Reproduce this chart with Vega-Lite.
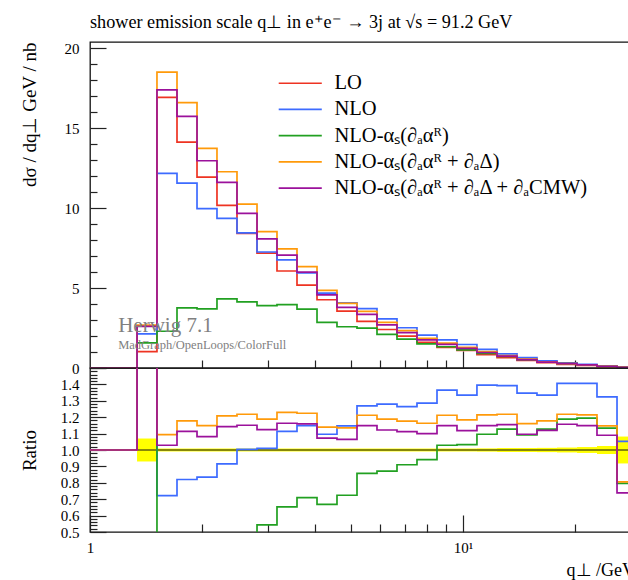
{
  "$schema": "https://vega.github.io/schema/vega-lite/v6.json",
  "padding": {"left": 19, "top": 12, "right": 0, "bottom": 0},
  "config": {
    "view": {"stroke": "#111111", "strokeWidth": 1.3},
    "font": "Liberation Serif",
    "axis": {
      "domain": false, "grid": false, "tickColor": "#222222", "tickWidth": 1.2,
      "labelFont": "Liberation Serif", "labelFontSize": 15, "labelColor": "black",
      "titleFont": "Liberation Serif", "titleFontSize": 19, "titleFontWeight": "normal", "titleColor": "black",
      "labelOverlap": false, "labelBound": false, "labelFlush": false
    }
  },
  "datasets": {
    "hist": [
      {"q": 1.0, "LO": 0, "NLO": 0, "AR": 0, "ARD": 0, "ARDC": 0},
      {"q": 1.337, "LO": 1.03, "NLO": 2.14, "AR": 1.57, "ARD": 2.68, "ARDC": 2.61},
      {"q": 1.512, "LO": 16.93, "NLO": 12.18, "AR": 2.30, "ARD": 18.51, "ARDC": 17.41},
      {"q": 1.711, "LO": 14.14, "NLO": 11.57, "AR": 3.76, "ARD": 16.61, "ARDC": 15.74},
      {"q": 1.936, "LO": 11.95, "NLO": 9.97, "AR": 3.70, "ARD": 13.74, "ARDC": 12.97},
      {"q": 2.190, "LO": 10.18, "NLO": 9.36, "AR": 4.32, "ARD": 12.28, "ARDC": 11.61},
      {"q": 2.478, "LO": 8.42, "NLO": 8.45, "AR": 4.14, "ARD": 10.26, "ARDC": 9.68},
      {"q": 2.804, "LO": 7.19, "NLO": 7.26, "AR": 3.90, "ARD": 8.54, "ARDC": 8.08},
      {"q": 3.172, "LO": 6.07, "NLO": 6.76, "AR": 3.97, "ARD": 7.46, "ARDC": 7.06},
      {"q": 3.589, "LO": 5.18, "NLO": 5.95, "AR": 3.68, "ARD": 6.34, "ARDC": 6.00},
      {"q": 4.061, "LO": 4.27, "NLO": 4.68, "AR": 2.86, "ARD": 4.86, "ARDC": 4.58},
      {"q": 4.594, "LO": 3.56, "NLO": 4.08, "AR": 2.58, "ARD": 4.04, "ARDC": 3.79},
      {"q": 5.198, "LO": 2.92, "NLO": 3.71, "AR": 2.50, "ARD": 3.54, "ARDC": 3.36},
      {"q": 5.881, "LO": 2.41, "NLO": 3.08, "AR": 2.10, "ARD": 2.86, "ARDC": 2.70},
      {"q": 6.654, "LO": 1.99, "NLO": 2.52, "AR": 1.81, "ARD": 2.34, "ARDC": 2.21},
      {"q": 7.528, "LO": 1.60, "NLO": 2.06, "AR": 1.51, "ARD": 1.86, "ARDC": 1.76},
      {"q": 8.518, "LO": 1.29, "NLO": 1.76, "AR": 1.33, "ARD": 1.56, "ARDC": 1.48},
      {"q": 9.636, "LO": 1.10, "NLO": 1.47, "AR": 1.14, "ARD": 1.30, "ARDC": 1.23},
      {"q": 10.90, "LO": 0.84, "NLO": 1.17, "AR": 0.92, "ARD": 1.02, "ARDC": 0.97},
      {"q": 12.34, "LO": 0.64, "NLO": 0.89, "AR": 0.72, "ARD": 0.78, "ARDC": 0.74},
      {"q": 13.96, "LO": 0.48, "NLO": 0.65, "AR": 0.52, "ARD": 0.56, "ARDC": 0.53},
      {"q": 15.79, "LO": 0.33, "NLO": 0.44, "AR": 0.37, "ARD": 0.39, "ARDC": 0.37},
      {"q": 17.87, "LO": 0.23, "NLO": 0.32, "AR": 0.27, "ARD": 0.28, "ARDC": 0.27},
      {"q": 20.22, "LO": 0.165, "NLO": 0.232, "AR": 0.197, "ARD": 0.200, "ARDC": 0.190},
      {"q": 22.87, "LO": 0.09, "NLO": 0.119, "AR": 0.102, "ARD": 0.103, "ARDC": 0.098},
      {"q": 25.88, "LO": 0.045, "NLO": 0.047, "AR": 0.036, "ARD": 0.036, "ARDC": 0.033},
      {"q": 29.28, "LO": 0.045, "NLO": 0.047, "AR": 0.036, "ARD": 0.036, "ARDC": 0.033}
    ],
    "ratio": [
      {"q": 1.0, "NLO": 1, "AR": 1, "ARD": 1, "ARDC": 1},
      {"q": 1.337, "NLO": 2.08, "AR": 1.52, "ARD": 2.60, "ARDC": 2.53},
      {"q": 1.512, "NLO": 0.722, "AR": 0.136, "ARD": 1.094, "ARDC": 1.029},
      {"q": 1.711, "NLO": 0.820, "AR": 0.266, "ARD": 1.178, "ARDC": 1.114},
      {"q": 1.936, "NLO": 0.835, "AR": 0.310, "ARD": 1.149, "ARDC": 1.082},
      {"q": 2.190, "NLO": 0.916, "AR": 0.424, "ARD": 1.208, "ARDC": 1.143},
      {"q": 2.478, "NLO": 1.004, "AR": 0.49, "ARD": 1.218, "ARDC": 1.151},
      {"q": 2.804, "NLO": 1.010, "AR": 0.543, "ARD": 1.188, "ARDC": 1.124},
      {"q": 3.172, "NLO": 1.114, "AR": 0.653, "ARD": 1.229, "ARDC": 1.163},
      {"q": 3.589, "NLO": 1.149, "AR": 0.710, "ARD": 1.224, "ARDC": 1.159},
      {"q": 4.061, "NLO": 1.096, "AR": 0.669, "ARD": 1.139, "ARDC": 1.073},
      {"q": 4.594, "NLO": 1.147, "AR": 0.724, "ARD": 1.135, "ARDC": 1.065},
      {"q": 5.198, "NLO": 1.269, "AR": 0.857, "ARD": 1.212, "ARDC": 1.149},
      {"q": 5.881, "NLO": 1.280, "AR": 0.871, "ARD": 1.188, "ARDC": 1.122},
      {"q": 6.654, "NLO": 1.265, "AR": 0.910, "ARD": 1.176, "ARDC": 1.112},
      {"q": 7.528, "NLO": 1.286, "AR": 0.941, "ARD": 1.163, "ARDC": 1.100},
      {"q": 8.518, "NLO": 1.365, "AR": 1.029, "ARD": 1.212, "ARDC": 1.149},
      {"q": 9.636, "NLO": 1.335, "AR": 1.033, "ARD": 1.184, "ARDC": 1.118},
      {"q": 10.90, "NLO": 1.396, "AR": 1.096, "ARD": 1.214, "ARDC": 1.149},
      {"q": 12.34, "NLO": 1.392, "AR": 1.127, "ARD": 1.218, "ARDC": 1.155},
      {"q": 13.96, "NLO": 1.347, "AR": 1.092, "ARD": 1.161, "ARDC": 1.096},
      {"q": 15.79, "NLO": 1.335, "AR": 1.127, "ARD": 1.178, "ARDC": 1.120},
      {"q": 17.87, "NLO": 1.406, "AR": 1.188, "ARD": 1.218, "ARDC": 1.157},
      {"q": 20.22, "NLO": 1.406, "AR": 1.194, "ARD": 1.214, "ARDC": 1.149},
      {"q": 22.87, "NLO": 1.324, "AR": 1.133, "ARD": 1.147, "ARDC": 1.090},
      {"q": 25.88, "NLO": 1.053, "AR": 0.796, "ARD": 0.806, "ARDC": 0.739},
      {"q": 29.28, "NLO": 1.053, "AR": 0.796, "ARD": 0.806, "ARDC": 0.739}
    ],
    "band": [
      {"lo": 1.337, "hi": 1.512, "down": 0.93, "up": 1.07},
      {"lo": 1.512, "hi": 1.711, "down": 0.991, "up": 1.009},
      {"lo": 1.711, "hi": 1.936, "down": 0.991, "up": 1.009},
      {"lo": 1.936, "hi": 2.190, "down": 0.991, "up": 1.009},
      {"lo": 2.190, "hi": 2.478, "down": 0.991, "up": 1.009},
      {"lo": 2.478, "hi": 2.804, "down": 0.991, "up": 1.009},
      {"lo": 2.804, "hi": 3.172, "down": 0.991, "up": 1.009},
      {"lo": 3.172, "hi": 3.589, "down": 0.991, "up": 1.009},
      {"lo": 3.589, "hi": 4.061, "down": 0.991, "up": 1.009},
      {"lo": 4.061, "hi": 4.594, "down": 0.991, "up": 1.009},
      {"lo": 4.594, "hi": 5.198, "down": 0.991, "up": 1.009},
      {"lo": 5.198, "hi": 5.881, "down": 0.991, "up": 1.009},
      {"lo": 5.881, "hi": 6.654, "down": 0.991, "up": 1.009},
      {"lo": 6.654, "hi": 7.528, "down": 0.991, "up": 1.009},
      {"lo": 7.528, "hi": 8.518, "down": 0.991, "up": 1.009},
      {"lo": 8.518, "hi": 9.636, "down": 0.991, "up": 1.009},
      {"lo": 9.636, "hi": 10.90, "down": 0.991, "up": 1.009},
      {"lo": 10.90, "hi": 12.34, "down": 0.99, "up": 1.01},
      {"lo": 12.34, "hi": 13.96, "down": 0.988, "up": 1.012},
      {"lo": 13.96, "hi": 15.79, "down": 0.988, "up": 1.012},
      {"lo": 15.79, "hi": 17.87, "down": 0.987, "up": 1.013},
      {"lo": 17.87, "hi": 20.22, "down": 0.985, "up": 1.015},
      {"lo": 20.22, "hi": 22.87, "down": 0.982, "up": 1.018},
      {"lo": 22.87, "hi": 25.88, "down": 0.975, "up": 1.025},
      {"lo": 25.88, "hi": 29.28, "down": 0.918, "up": 1.082}
    ]
  },
  "spacing": 0,
  "bounds": "flush",
  "resolve": {"scale": {"color": "independent"}, "legend": {"color": "independent"}},
  "vconcat": [
    {
      "width": 540,
      "height": 326,
      "title": {
        "text": "shower emission scale q⊥ in e⁺e⁻ → 3j at √s = 91.2 GeV",
        "anchor": "start", "frame": "group", "font": "Liberation Serif",
        "fontSize": 18.2, "fontWeight": "normal", "color": "black", "offset": 9
      },
      "layer": [
        {
          "data": {"name": "hist"},
          "transform": [{"fold": ["LO", "NLO", "AR", "ARD", "ARDC"], "as": ["series", "value"]}],
          "mark": {"type": "line", "interpolate": "step-after", "strokeWidth": 1.7, "clip": true},
          "encoding": {
            "x": {
              "field": "q", "type": "quantitative",
              "scale": {"type": "log", "domain": [1, 28.04], "nice": false},
              "axis": {
                "orient": "bottom", "values": [2, 3, 4, 5, 6, 7, 8, 9, 10, 20], "tickCount": 200,
                "labels": false, "title": null, "labelOverlap": false,
                "tickSize": {"condition": {"test": "datum.value == 10", "value": -17}, "value": -8}
              }
            },
            "y": {
              "field": "value", "type": "quantitative",
              "scale": {"domain": [0, 20.4], "nice": false, "zero": false},
              "axis": {
                "values": [0, 1, 2, 3, 4, 5, 6, 7, 8, 9, 10, 11, 12, 13, 14, 15, 16, 17, 18, 19, 20],
                "tickCount": 200,
                "labelExpr": "datum.value % 5 == 0 ? format(datum.value, 'd') : ''",
                "labelOverlap": false,
                "tickSize": {"condition": {"test": "datum.value % 5 == 0", "value": -16}, "value": -7},
                "labelPadding": 27,
                "title": "dσ / dq⊥   GeV / nb", "titleAnchor": "end", "titleX": -61, "titleBaseline": "middle"
              }
            },
            "color": {
              "field": "series", "type": "nominal",
              "scale": {
                "domain": ["LO", "NLO", "AR", "ARD", "ARDC"],
                "range": ["#ee3322", "#3d6bff", "#21a021", "#ff9a0a", "#9b119b"]
              },
              "legend": {
                "orient": "none", "legendX": 200, "legendY": 31, "title": null,
                "symbolType": "M-4,0H4", "symbolSize": 116, "symbolStrokeWidth": 1.7,
                "labelFont": "Liberation Serif", "labelFontSize": 20.5, "labelColor": "black",
                "labelOffset": 24, "rowPadding": 5.2, "labelLimit": 400,
                "labelExpr": "datum.label == 'AR' ? 'NLO-αₛ(∂ₐαᴿ)' : datum.label == 'ARD' ? 'NLO-αₛ(∂ₐαᴿ + ∂ₐΔ)' : datum.label == 'ARDC' ? 'NLO-αₛ(∂ₐαᴿ + ∂ₐΔ + ∂ₐCMW)' : datum.label"
              }
            }
          }
        },
        {
          "data": {"values": [{"q": 1.19, "value": 2.28, "note": "Herwig 7.1"}]},
          "mark": {"type": "text", "align": "left", "baseline": "alphabetic", "font": "Liberation Serif", "fontSize": 21, "color": "#808080"},
          "encoding": {
            "x": {"field": "q", "type": "quantitative"},
            "y": {"field": "value", "type": "quantitative"},
            "text": {"field": "note"}
          }
        },
        {
          "data": {"values": [{"q": 1.19, "value": 1.2, "note": "MadGraph/OpenLoops/ColorFull"}]},
          "mark": {"type": "text", "align": "left", "baseline": "alphabetic", "font": "Liberation Serif", "fontSize": 12.5, "color": "#808080"},
          "encoding": {
            "x": {"field": "q", "type": "quantitative"},
            "y": {"field": "value", "type": "quantitative"},
            "text": {"field": "note"}
          }
        }
      ]
    },
    {
      "width": 540,
      "height": 164,
      "layer": [
        {
          "data": {"name": "band"},
          "mark": {"type": "rect", "color": "#ffff00", "clip": true},
          "encoding": {
            "x": {
              "field": "lo", "type": "quantitative",
              "scale": {"type": "log", "domain": [1, 28.04], "nice": false},
              "axis": {
                "orient": "bottom", "values": [1, 2, 3, 4, 5, 6, 7, 8, 9, 10, 20], "tickCount": 200,
                "labelExpr": "datum.value == 1 ? '1' : datum.value == 10 ? '10¹' : ''",
                "labelOverlap": false,
                "tickSize": {"condition": {"test": "datum.value == 1 || datum.value == 10", "value": -17}, "value": -8},
                "labelPadding": 25,
                "title": "q⊥ /GeV", "titleX": 476, "titleY": 38, "titleAlign": "left", "titleBaseline": "middle", "titleFontSize": 18
              }
            },
            "x2": {"field": "hi"},
            "y": {
              "field": "down", "type": "quantitative",
              "scale": {"domain": [0.5, 1.5], "nice": false, "zero": false},
              "axis": {
                "values": [0.5, 0.52, 0.54, 0.56, 0.58, 0.6, 0.62, 0.64, 0.66, 0.68, 0.7, 0.72, 0.74, 0.76, 0.78, 0.8, 0.82, 0.84, 0.86, 0.88, 0.9, 0.92, 0.94, 0.96, 0.98, 1, 1.02, 1.04, 1.06, 1.08, 1.1, 1.12, 1.14, 1.16, 1.18, 1.2, 1.22, 1.24, 1.26, 1.28, 1.3, 1.32, 1.34, 1.36, 1.38, 1.4, 1.42, 1.44, 1.46, 1.48, 1.5],
                "tickCount": 200,
                "labelExpr": "abs(datum.value * 10 - round(datum.value * 10)) < 0.01 && datum.value < 1.45 ? format(datum.value, '.1f') : ''",
                "labelOverlap": false,
                "tickSize": {"condition": {"test": "abs(datum.value * 10 - round(datum.value * 10)) < 0.01", "value": -16}, "value": -7},
                "labelPadding": 27,
                "title": "Ratio", "titleX": -61, "titleBaseline": "middle"
              }
            },
            "y2": {"field": "up"}
          }
        },
        {
          "data": {"values": [{"level": 1}]},
          "mark": {"type": "rule", "color": "#111111", "strokeWidth": 1.2},
          "encoding": {"y": {"field": "level", "type": "quantitative"}}
        },
        {
          "data": {"name": "ratio"},
          "transform": [{"fold": ["NLO", "AR", "ARD", "ARDC"], "as": ["series", "value"]}],
          "mark": {"type": "line", "interpolate": "step-after", "strokeWidth": 1.7, "clip": true},
          "encoding": {
            "x": {"field": "q", "type": "quantitative"},
            "y": {"field": "value", "type": "quantitative"},
            "color": {
              "field": "series", "type": "nominal",
              "scale": {"domain": ["NLO", "AR", "ARD", "ARDC"], "range": ["#3d6bff", "#21a021", "#ff9a0a", "#9b119b"]},
              "legend": null
            }
          }
        }
      ]
    }
  ]
}
